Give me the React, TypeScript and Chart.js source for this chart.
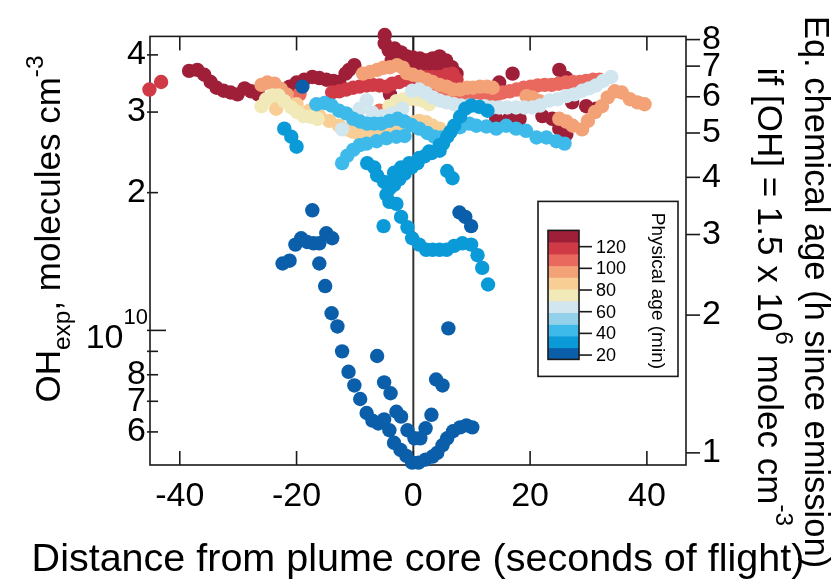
import React, { useEffect, useRef } from 'react';
import { Chart, registerables } from 'chart.js';

Chart.register(...registerables);

const FONT = '"Liberation Sans", Arial, Helvetica, sans-serif';

// ---------- axes ----------
const xTicks = [-40, -20, 0, 20, 40];
const xMin = -45.1;
const xMax = 46.7;
const xTitle = 'Distance from plume core (seconds of flight)';
// OH exposure, in units of 1e10 molecules cm^-3
const ohTicks = [0.6, 0.7, 0.8, 0.9, 1, 2, 3, 4];
const ohTickLabels = ['6', '7', '8', '', '', '2', '3', '4'];
const ohMin = 0.508;
const ohMax = 4.39;
// equivalent age (h) = OHexp / (1.5e6 * 3600) -> 1 h = 0.54e10
const hoursPerUnit = 0.54;
const ageTicks = [1, 2, 3, 4, 5, 6, 7, 8];

// ---------- colour bar ----------
const cbarColors = [
  '#0b5ea9', '#0b9ad8', '#3ebaea', '#93d0ea', '#d1e6ef', '#f2e9b9',
  '#f8ce94', '#f3a176', '#e9695f', '#d03a46', '#9e1f37',
];
const cbarTicks = [20, 40, 60, 80, 100, 120];
const cbarMin = 16;
const cbarMax = 135;

// ---------- data (x: seconds of flight, y: OHexp / 1e10) ----------
const age20X = [-19.0, -22.4, -21.2, -20.2, -19.2, -18.2, -17.1, -16.1, -14.9, -13.9, -17.3, -16.1, -15.1, -14.0, -13.0, -12.2, -11.1, -10.1, -9.1, -8.0, -7.0, -6.0, -5.0, -4.1, -3.3, -2.2, -1.2, -0.2, 0.9, 2.1, 3.3, 4.1, 5.0, 5.8, 6.8, 8.0, 9.1, 10.1, -6.2, -5.0, -3.9, -2.9, -2.1, -1.0, 0.2, 1.2, 2.1, 3.1, 3.9, 5.0, 6.0, 7.9, 8.9, 9.9];
const age20Y = [3.41, 1.40, 1.42, 1.54, 1.59, 1.56, 1.55, 1.55, 1.63, 1.59, 1.83, 1.40, 1.25, 1.09, 1.02, 0.90, 0.812, 0.758, 0.708, 0.660, 0.635, 0.626, 0.639, 0.605, 0.568, 0.548, 0.532, 0.514, 0.514, 0.522, 0.530, 0.540, 0.561, 0.581, 0.602, 0.614, 0.620, 0.614, 0.879, 0.770, 0.729, 0.664, 0.648, 0.605, 0.581, 0.581, 0.611, 0.654, 0.781, 0.758, 1.01, 1.81, 1.77, 1.69];

const age35X = [-22.1, -20.9, -20.0, -7.9, -6.7, -6.2, -5.0, -4.1, -3.3, -2.4, -1.5, -0.3, 0.7, 1.9, 3.1, 4.5, 5.1, 5.8, 6.4, 7.0, 8.0, 8.9, 9.9, 11.3, 12.7, -3.3, -2.1, -0.7, 1.0, 2.7, 4.5, -4.6, -4.1, -2.9, -2.1, -1.0, -0.2, 1.0, 2.2, 3.3, 4.5, 5.7, 7.0, 8.4, 9.9, 11.0, 11.8, 12.8, -5.1, 5.8, 6.7];
const age35Y = [2.76, 2.65, 2.52, 2.32, 2.27, 2.18, 2.11, 2.04, 2.08, 2.14, 2.20, 2.27, 2.32, 2.40, 2.44, 2.47, 2.56, 2.65, 2.72, 2.80, 2.93, 3.05, 3.10, 3.08, 3.02, 2.21, 2.27, 2.32, 2.38, 2.46, 2.54, 1.98, 1.91, 1.89, 1.77, 1.68, 1.59, 1.54, 1.50, 1.50, 1.50, 1.50, 1.53, 1.55, 1.54, 1.46, 1.37, 1.26, 1.69, 2.23, 2.15];

const age45X = [-16.6, -15.2, -14.0, -12.7, -11.5, -10.3, -9.1, -7.9, -6.7, -5.5, -4.1, -2.7, -1.5, -0.3, 1.0, 2.4, 3.6, 4.8, 6.2, 8.0, 9.6, 10.8, 12.5, 14.2, 15.9, 17.6, 19.3, 21.1, 22.8, 24.5, 25.9, -12.2, -11.3, -10.3, -9.2, -8.0, -6.3, -4.6, -2.9, -1.5];
const age45Y = [3.12, 3.14, 3.10, 3.02, 2.98, 2.90, 2.86, 2.83, 2.83, 2.83, 2.87, 2.90, 2.86, 2.81, 2.76, 2.70, 2.65, 2.64, 2.70, 2.78, 2.83, 2.80, 2.79, 2.76, 2.80, 2.76, 2.73, 2.64, 2.64, 2.59, 2.56, 2.32, 2.41, 2.48, 2.54, 2.56, 2.59, 2.63, 2.65, 2.66];

const age65X = [-12.2, -9.2, -8.0, -7.0, -5.3, -3.6, -1.9, -0.2, 1.0, 2.2, 3.3, 4.5, 5.7, 7.0, 8.2, 9.6, 10.8, 12.2, 13.5, 14.7, 16.1, 17.6, 19.0, 20.4, 21.7, 23.3, 24.7, 26.2, 27.6, 28.9, 30.1, 31.3, 32.5, 33.9];
const age65Y = [2.75, 3.05, 3.18, 2.99, 2.94, 2.98, 3.05, 3.34, 3.36, 3.30, 3.23, 3.18, 3.15, 3.12, 3.10, 3.10, 3.09, 3.09, 3.07, 3.07, 3.07, 3.07, 3.07, 3.07, 3.10, 3.18, 3.20, 3.25, 3.28, 3.34, 3.38, 3.43, 3.51, 3.58];

const age80X = [-26.0, -25.2, -24.1, -23.1, -22.1, -20.9, -19.9, -18.8, -17.6, -16.4, -4.1, -2.9, -1.7, -0.7, 0.5, 1.5, 2.7];
const age80Y = [3.09, 3.20, 3.26, 3.26, 3.17, 3.07, 3.00, 2.94, 2.93, 2.90, 3.09, 3.17, 3.20, 3.20, 3.20, 3.18, 3.12];

const age90X = [-23.5, -20.0, -17.8, -16.1, -14.4, -12.7, -11.5, -10.4, -9.2, -8.0, -7.0, -5.8, -4.6, -3.6, -2.4, -1.2, 0.1, 1.0, 2.2, 3.3, 4.5];
const age90Y = [3.05, 3.12, 3.02, 2.94, 2.87, 2.80, 2.75, 2.72, 2.68, 2.69, 2.69, 2.72, 2.72, 2.72, 2.76, 2.80, 2.85, 2.87, 2.85, 2.80, 2.76];

const age100X = [-26.0, -25.0, -23.8, -22.7, -21.7, -8.6, -7.4, -6.2, -5.1, -4.0, -2.8, -1.8, -1.1, -0.1, 1.1, 2.3, 3.3, 4.5, 5.7, 6.8, 8.0, 9.2, 10.2, 11.4, 12.6, 13.6, 19.4, 20.4, 21.6, 25.0, 26.2, 27.3, 28.9, 29.9, 31.1, 32.3, 33.3, 34.5, 35.7, 37.1, 38.4, 39.6];
const age100Y = [3.44, 3.48, 3.46, 3.37, 3.28, 3.64, 3.67, 3.71, 3.75, 3.76, 3.80, 3.75, 3.65, 3.62, 3.58, 3.53, 3.49, 3.44, 3.41, 3.36, 3.36, 3.39, 3.39, 3.41, 3.41, 3.39, 3.25, 3.23, 3.17, 2.90, 2.86, 2.80, 2.75, 2.87, 3.00, 3.09, 3.23, 3.33, 3.31, 3.20, 3.15, 3.12];

const age110X = [-19.5, -5.8, -4.6, -3.6, 1.6, 2.8, 4.0, 5.2, 6.2, 7.4, 8.5, 9.6, 10.8, 12.0, 13.1, 14.3, 15.3, 16.5, 17.7, 18.9, 20.1, 21.3, 22.5, 23.7, 24.9, 26.1, 27.3, 28.5, 29.6, 30.8, 31.9];
const age110Y = [3.28, 3.02, 3.00, 3.00, 3.41, 3.36, 3.33, 3.31, 3.31, 3.28, 3.26, 3.25, 3.25, 3.25, 3.26, 3.28, 3.31, 3.33, 3.36, 3.39, 3.41, 3.43, 3.44, 3.44, 3.46, 3.48, 3.49, 3.49, 3.51, 3.53, 3.53];

const age120X = [-45.2, -43.2, -13.9, -12.7, -11.5, -10.3, -9.2, -8.0, -7.0, -5.8, -4.6, -3.6, -2.4, -1.2, -0.2, 1.0, 2.2, 3.3, 4.5, 5.7, 6.7, 7.4];
const age120Y = [3.36, 3.49, 3.31, 3.33, 3.36, 3.39, 3.41, 3.43, 3.44, 3.43, 3.41, 3.46, 3.49, 3.53, 3.56, 3.58, 3.58, 3.58, 3.58, 3.62, 3.64, 3.53];

const age130X = [-38.4, -37.0, -35.8, -34.7, -33.7, -32.5, -31.3, -30.1, -28.9, -27.8, -26.6, -21.2, -20.0, -18.7, -17.3, -16.1, -14.9, -13.7, -12.7, -11.6, -11.0, -10.1, -4.9, -4.9, -4.2, -3.2, -2.1, -1.1, -0.1, 1.1, 2.3, 3.3, 4.5, 5.6, 6.6, 7.4, -3.7, -1.8, 0.3, 2.5, 4.5, -4.0, 5.7, 17.0, 14.7, 25.0, 26.2, 14.2, 16.4, 18.2, 22.1, 23.8, 25.0, 26.2, 29.6, 31.3, 27.2];
const age130Y = [3.69, 3.71, 3.62, 3.49, 3.39, 3.34, 3.31, 3.28, 3.38, 3.33, 3.28, 3.41, 3.48, 3.53, 3.58, 3.56, 3.53, 3.51, 3.49, 3.64, 3.71, 3.80, 4.42, 4.24, 4.09, 4.13, 4.05, 3.97, 3.95, 3.93, 3.89, 3.93, 3.97, 3.89, 3.76, 3.64, 3.89, 3.82, 3.80, 3.76, 3.78, 3.28, 3.28, 3.64, 3.48, 3.71, 3.56, 2.90, 2.90, 2.90, 2.94, 2.90, 2.76, 2.68, 3.09, 3.05, 3.15];

// youngest first so that it is drawn on top
const seriesDefs = [
  { label: '20 min', color: '#0b5ea9', xs: age20X, ys: age20Y },
  { label: '35 min', color: '#0b9ad8', xs: age35X, ys: age35Y },
  { label: '45 min', color: '#3ebaea', xs: age45X, ys: age45Y },
  { label: '65 min', color: '#d1e6ef', xs: age65X, ys: age65Y },
  { label: '80 min', color: '#f2e9b9', xs: age80X, ys: age80Y },
  { label: '90 min', color: '#f8ce94', xs: age90X, ys: age90Y },
  { label: '100 min', color: '#f3a176', xs: age100X, ys: age100Y },
  { label: '110 min', color: '#e9695f', xs: age110X, ys: age110Y },
  { label: '120 min', color: '#d03a46', xs: age120X, ys: age120Y },
  { label: '130 min', color: '#9e1f37', xs: age130X, ys: age130Y },
];

type Part = { t: string; s: number; up: number };

function richText(ctx: CanvasRenderingContext2D, parts: Part[], x: number, y: number, angle: number, size: number) {
  ctx.save();
  ctx.translate(x, y);
  ctx.rotate(angle);
  ctx.textAlign = 'left';
  ctx.textBaseline = 'alphabetic';
  ctx.fillStyle = '#000';
  const widths = parts.map((p) => {
    ctx.font = `${size * p.s}px ${FONT}`;
    return ctx.measureText(p.t).width;
  });
  const total = widths.reduce((a, b) => a + b, 0);
  let cx = -total / 2;
  parts.forEach((p, i) => {
    ctx.font = `${size * p.s}px ${FONT}`;
    ctx.fillText(p.t, cx, -p.up * size);
    cx += widths[i];
  });
  ctx.restore();
}

function seg(ctx: CanvasRenderingContext2D, x1: number, y1: number, x2: number, y2: number) {
  ctx.beginPath();
  ctx.moveTo(x1, y1);
  ctx.lineTo(x2, y2);
  ctx.stroke();
}

const decorPlugin = {
  id: 'decor',
  beforeDatasetsDraw(chart: any) {
    const { ctx, chartArea: a, scales } = chart;
    const sx = scales.x, sy = scales.y, sy2 = scales.y2;
    ctx.save();
    ctx.strokeStyle = '#1a1a1a';
    ctx.lineWidth = 1.6;
    ctx.strokeRect(a.left, a.top, a.right - a.left, a.bottom - a.top);
    const x0 = sx.getPixelForValue(0);
    ctx.strokeStyle = '#333';
    ctx.lineWidth = 2;
    seg(ctx, x0, a.top, x0, a.bottom);
    ctx.strokeStyle = '#1a1a1a';
    ctx.lineWidth = 1.6;
    xTicks.forEach((v) => {
      const px = sx.getPixelForValue(v);
      seg(ctx, px, a.bottom, px, a.bottom - 14);
      seg(ctx, px, a.top, px, a.top + 14);
    });
    ohTicks.forEach((v) => {
      const py = sy.getPixelForValue(v);
      seg(ctx, a.left - 3, py, a.left + (v === 1 ? 16 : 8), py);
    });
    ageTicks.forEach((v) => {
      const py = sy2.getPixelForValue(v);
      seg(ctx, a.right, py, a.right + 14, py);
    });
    ctx.restore();
  },
  afterDraw(chart: any) {
    const { ctx, chartArea: a, scales } = chart;
    const sy = scales.y;
    const sx = scales.x;
    // 10^10 label
    const p10 = sy.getPixelForValue(1);
    ctx.save();
    ctx.fillStyle = '#000';
    ctx.textBaseline = 'alphabetic';
    ctx.textAlign = 'right';
    ctx.font = `22px ${FONT}`;
    const supW = ctx.measureText('10').width;
    ctx.fillText('10', a.left - 2, p10 - 6);
    ctx.font = `34px ${FONT}`;
    ctx.fillText('10', a.left - 2 - supW, p10 + 18);
    ctx.restore();

    // x title
    richText(ctx, [{ t: xTitle, s: 1, up: 0 }], (sx.left + sx.right) / 2, 571, 0, 39.5);

    // left title
    richText(ctx, [
      { t: 'OH', s: 1, up: 0 },
      { t: 'exp', s: 0.7, up: -0.28 },
      { t: ', molecules cm', s: 1, up: 0 },
      { t: '-3', s: 0.7, up: 0.5 },
    ], 60, 229, -Math.PI / 2, 35);

    // right title
    richText(ctx, [{ t: 'Eq. chemical age (h since emission)', s: 1, up: 0 }], 805, 292, Math.PI / 2, 34.5);
    richText(ctx, [
      { t: 'if [OH] = 1.5 x 10', s: 1, up: 0 },
      { t: '6', s: 0.7, up: 0.5 },
      { t: ' molec cm', s: 1, up: 0 },
      { t: '-3', s: 0.7, up: 0.5 },
    ], 758, 297, Math.PI / 2, 35);

    // colour bar legend
    const boxL = a.right - 148, boxT = a.top + 165, boxR = a.right - 8, boxB = a.top + 340;
    ctx.save();
    ctx.fillStyle = '#fff';
    ctx.fillRect(boxL, boxT, boxR - boxL, boxB - boxT);
    ctx.strokeStyle = '#1a1a1a';
    ctx.lineWidth = 1.6;
    ctx.strokeRect(boxL, boxT, boxR - boxL, boxB - boxT);
    const barL = boxL + 10, barR = boxL + 41, barT = boxT + 29, barB = boxT + 158;
    const toPx = (v: number) => barB - ((v - cbarMin) / (cbarMax - cbarMin)) * (barB - barT);
    const step = (cbarMax - cbarMin) / cbarColors.length;
    cbarColors.forEach((c, i) => {
      const y1 = toPx(cbarMin + i * step);
      const y2 = toPx(cbarMin + (i + 1) * step);
      ctx.fillStyle = c;
      ctx.fillRect(barL, y2, barR - barL, y1 - y2 + 0.5);
    });
    ctx.strokeRect(barL, barT, barR - barL, barB - barT);
    ctx.fillStyle = '#000';
    ctx.font = `18px ${FONT}`;
    ctx.textAlign = 'left';
    ctx.textBaseline = 'middle';
    cbarTicks.forEach((t) => {
      const py = toPx(t);
      seg(ctx, barR, py, barR + 13, py);
      ctx.fillText(String(t), barR + 17, py + 1);
    });
    ctx.restore();
    richText(ctx, [{ t: 'Physical age (min)', s: 1, up: 0 }], boxR - 26, (boxT + boxB) / 2 + 2, Math.PI / 2, 19);
  },
};

export default function App() {
  const ref = useRef<HTMLCanvasElement | null>(null);
  useEffect(() => {
    if (!ref.current) return;
    const datasets = seriesDefs.map((s) => ({
      label: s.label,
      data: s.xs.map((x, i) => ({ x, y: s.ys[i] })),
      backgroundColor: s.color,
      borderWidth: 0,
      pointRadius: 7.2,
      pointHoverRadius: 7.2,
      showLine: false,
      clip: false as any,
    }));
    const tickFont = { family: FONT, size: 34 };
    const chart = new Chart(ref.current, {
      type: 'scatter',
      data: { datasets },
      options: {
        responsive: false,
        animation: false,
        devicePixelRatio: 1,
        layout: { padding: { top: 24, left: 0, right: 0, bottom: 0 } },
        plugins: { legend: { display: false }, tooltip: { enabled: false } },
        scales: {
          x: {
            type: 'linear',
            position: 'bottom',
            min: xMin,
            max: xMax,
            afterBuildTicks: (s: any) => { s.ticks = xTicks.map((v) => ({ value: v })); },
            afterFit: (s: any) => { s.height = 121; },
            grid: { display: false, drawTicks: false },
            border: { display: false },
            ticks: { color: '#000', font: tickFont, padding: 11, maxRotation: 0, autoSkip: false, callback: (v: any) => String(v) },
            title: { display: false },
          },
          y: {
            type: 'logarithmic',
            position: 'left',
            min: ohMin,
            max: ohMax,
            afterBuildTicks: (s: any) => { s.ticks = ohTicks.map((v) => ({ value: v })); },
            afterFit: (s: any) => { s.width = 150; },
            grid: { display: false, drawTicks: false },
            border: { display: false },
            ticks: { color: '#000', font: tickFont, padding: 4, autoSkip: false, callback: (_v: any, i: number) => ohTickLabels[i] },
          },
          y2: {
            type: 'logarithmic',
            position: 'right',
            min: ohMin / hoursPerUnit,
            max: ohMax / hoursPerUnit,
            afterBuildTicks: (s: any) => { s.ticks = ageTicks.map((v) => ({ value: v })); },
            afterFit: (s: any) => { s.width = 149; },
            grid: { display: false, drawTicks: false },
            border: { display: false },
            ticks: { color: '#000', font: tickFont, padding: 16, autoSkip: false, callback: (v: any) => String(v) },
          },
        },
      },
      plugins: [decorPlugin],
    } as any);
    return () => chart.destroy();
  }, []);
  return (
    <div style={{ position: 'absolute', left: 0, top: 0, width: 835, height: 586, background: '#fff' }}>
      <canvas ref={ref} width={835} height={586} style={{ display: 'block' }} />
    </div>
  );
}
